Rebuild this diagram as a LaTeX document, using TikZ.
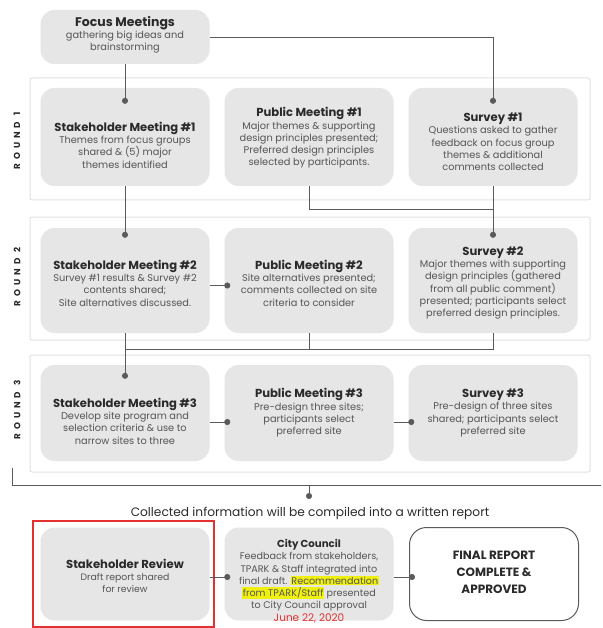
\documentclass[tikz,border=0pt]{standalone}
\usepackage{fontspec}
\setmainfont{Poppins}
\usetikzlibrary{arrows.meta,calc}
\definecolor{boxg}{HTML}{E6E6E6}
\definecolor{panelc}{HTML}{E0E0E0}
\definecolor{linec}{HTML}{5A5A5A}
\definecolor{titlec}{HTML}{2A2A2A}
\definecolor{bodyc}{HTML}{555555}
\definecolor{redc}{HTML}{E2312F}
\definecolor{hly}{HTML}{F0F010}
\newcommand\bt[1]{{\fontsize{11.6}{13.5}\selectfont\bfseries\color{titlec}#1}}
\newcommand\hlt[1]{{\setlength{\fboxsep}{0.6pt}\colorbox{hly}{#1}}}
\begin{document}
\begin{tikzpicture}[x=1pt,y=-1pt,
  box/.style={rounded corners=14pt, fill=boxg, minimum width=169pt, inner sep=0pt},
  txt/.style={align=center, font=\fontsize{9.8}{12.3}\selectfont, text=bodyc, inner sep=0pt},
  panel/.style={draw=panelc, line width=1pt, rounded corners=2pt},
  rlabel/.style={rotate=90, font=\fontsize{8.8}{9}\selectfont\bfseries\addfontfeature{LetterSpace=45}, text=titlec},
  conn/.style={draw=linec, line width=0.9pt},
  dotend/.style={-{Circle[length=6pt]}}
]
\useasboundingbox (0,0) rectangle (602,628);

% panels
\draw[panel] (30,78) rectangle (590,200);
\draw[panel] (30,217) rectangle (590,340);
\draw[panel] (30,355) rectangle (590,472);
\node[rlabel] (r1) at (17,141) {ROUND 1};
\node[rlabel] (r2) at (17,277) {ROUND 2};
\node[rlabel] (r3) at (17,410) {ROUND 3};

% focus
\node[box, minimum height=54pt] (focus) at (125,37) {};
\node[txt] (focust) at (125,35) {{\fontsize{12.5}{14}\selectfont\bfseries\color{titlec}Focus Meetings}\\gathering big ideas and\\brainstorming};

% row 1
\node[box, minimum height=98pt] (s1) at (125,137) {};
\node[box, minimum height=98pt] (p1) at (309,137) {};
\node[box, minimum height=98pt] (v1) at (493,137) {};
\node[txt] (s1t) at (125,145) {\bt{Stakeholder Meeting \#1}\\Themes from focus groups\\shared \& (5) major\\themes identified};
\node[txt] (p1t) at (309,138) {\bt{Public Meeting \#1}\\Major themes \& supporting\\design principles presented;\\Preferred design principles\\selected by participants.};
\node[txt] (v1t) at (493,142) {\bt{Survey \#1}\\Questions asked to gather\\feedback on focus group\\themes \& additional\\comments collected};

% row 2
\node[box, minimum height=105pt] (s2) at (125,280.5) {};
\node[box, minimum height=105pt] (p2) at (309,280.5) {};
\node[box, minimum height=105pt] (v2) at (493,280.5) {};
\node[txt] (s2t) at (125,283) {\bt{Stakeholder Meeting \#2}\\Survey \#1 results \& Survey \#2\\contents shared;\\Site alternatives discussed.};
\node[txt] (p2t) at (309,283) {\bt{Public Meeting \#2}\\Site alternatives presented;\\comments collected on site\\criteria to consider};
\node[txt] (v2t) at (493,283) {\bt{Survey \#2}\\Major themes with supporting\\design principles (gathered\\from all public comment)\\presented; participants select\\preferred design principles.};

% row 3
\node[box, minimum height=96pt] (s3) at (125,413) {};
\node[box, minimum height=96pt] (p3) at (309,413) {};
\node[box, minimum height=96pt] (v3) at (493,413) {};
\node[txt] (s3t) at (125,421) {\bt{Stakeholder Meeting \#3}\\Develop site program and\\selection criteria \& use to\\narrow sites to three};
\node[txt] (p3t) at (309,413) {\bt{Public Meeting \#3}\\Pre-design three sites;\\participants select\\preferred site};
\node[txt] (v3t) at (493,413) {\bt{Survey \#3}\\Pre-design of three sites\\shared; participants select\\preferred site};

% connectors
\coordinate (h1) at (0,209);
\coordinate (h2) at (0,349);
\draw[conn, dotend] (focus.south) -- ([yshift=-16pt]s1.north);
\draw[conn, dotend] (focus.east) -| ([yshift=-16pt]v1.north);
\draw[conn, dotend] (s1.south) -- ([yshift=-10pt]s2.north);
\draw[conn] (p1.south) |- (v1.south |- h1);
\draw[conn, dotend] (v1.south) -- ([yshift=-10pt]v2.north);
\draw[conn, dotend] ([yshift=-5pt]s2.east) -- ([xshift=6pt,yshift=-5pt]p2.west);
\draw[conn] (p2.south) -- (p2.south |- h2);
\draw[conn] (v2.south) |- (s2.south |- h2);
\draw[conn, dotend] (s2.south) -- ([yshift=-14pt]s3.north);
\draw[conn, dotend] ([yshift=-9pt]s3.east) -- ([xshift=6pt,yshift=-9pt]p3.west);
\draw[conn, dotend] ([yshift=-9pt]p3.east) -- ([xshift=6pt,yshift=-9pt]v3.west);

% bracket
\coordinate (bl) at (12,468);
\coordinate (blc) at (12,485);
\coordinate (brc) at (601,485);
\coordinate (bm) at (309,485);
\coordinate (bd) at (309,499);
\draw[conn] (bl) -- (blc) -- (brc);
\draw[conn, dotend] (bm) -- (bd);
\node[font=\fontsize{12.2}{14}\selectfont, text=titlec] (cap) at (310,513) {Collected information will be compiled into a written report};

% row 4
\node[box, minimum height=93pt] (sr) at (125,574) {};
\node[box, minimum height=93pt] (cc) at (309,574) {};
\node[box, minimum height=93pt, rounded corners=17pt, fill=white, draw=linec, line width=1pt] (fr) at (494,574) {};
\draw[draw=redc, line width=2pt] (33,521) rectangle (214,627);
\node[txt, font=\fontsize{9.3}{12}\selectfont] (srt) at (125,576) {\bt{Stakeholder Review}\\Draft report shared\\for review};
\node[txt, font=\fontsize{9.6}{12.3}\selectfont] (cct) at (309,581) {{\fontsize{10.2}{12}\selectfont\bfseries\color{titlec}City Council}\\Feedback from stakeholders,\\TPARK \& Staff integrated into\\final draft. \hlt{Recommendation}\\\hlt{from TPARK/Staff} presented\\to City Council approval\\{\fontsize{10.5}{12}\selectfont\color{redc}June 22, 2020}};
\node[align=center, font=\fontsize{12}{17}\selectfont\bfseries, text=titlec, inner sep=0pt] (frt) at (494,572) {FINAL REPORT\\COMPLETE \&\\APPROVED};
\draw[conn, dotend] ([yshift=-3pt]sr.east) -- ([xshift=6pt,yshift=-3pt]cc.west);
\draw[conn, dotend] ([yshift=-3pt]cc.east) -- ([xshift=6pt,yshift=-3pt]fr.west);
\end{tikzpicture}
\end{document}
